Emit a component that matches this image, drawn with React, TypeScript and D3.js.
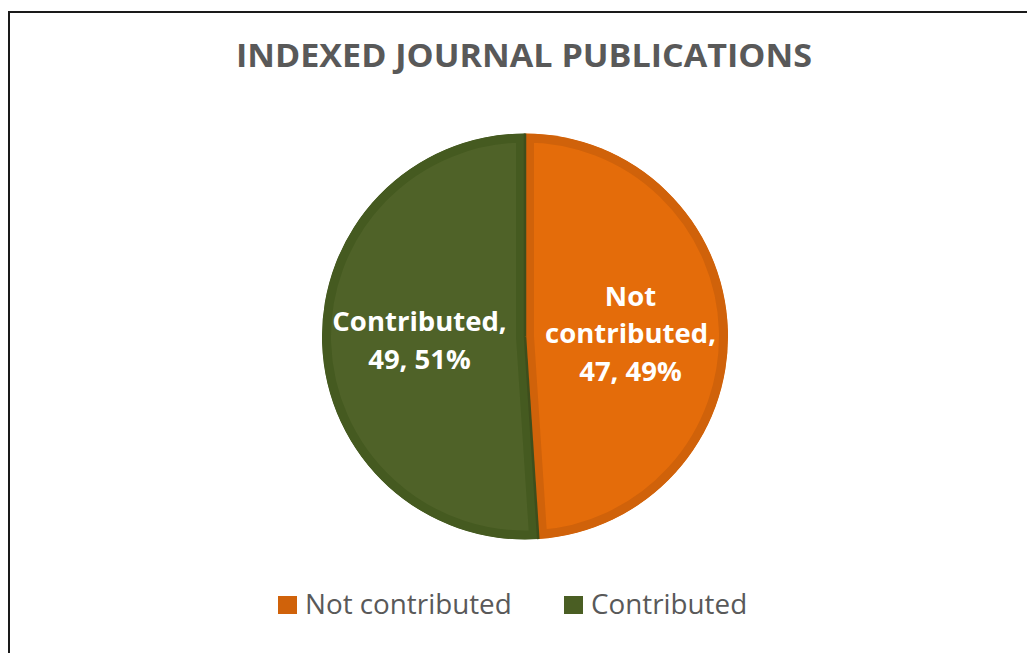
import React from "react";
import * as d3 from "d3";

const title = "INDEXED JOURNAL PUBLICATIONS";
const categories = ["Not contributed", "Contributed"];
const values = [47, 49];
const fills = ["#E46C0A", "#4F6228"];
const borders = ["#D0620A", "#455A20"];
const legendColors = ["#D0620A", "#4A5E23"];

const W = 1027;
const H = 653;
const cx = 525;
const cy = 336.5;
const R = 203;

export default function App() {
  const total = d3.sum(values);
  const pie = d3.pie<number>().sort(null).value((d) => d)(values);
  const arc = d3.arc<d3.PieArcDatum<number>>().innerRadius(0).outerRadius(R);
  const labelArc = d3
    .arc<d3.PieArcDatum<number>>()
    .innerRadius(R * 1.04)
    .outerRadius(0);

  const labelLines = (i: number) => {
    const pct = Math.round((values[i] / total) * 100);
    const tail = `${values[i]}, ${pct}%`;
    if (categories[i] === "Not contributed") return ["Not", "contributed,", tail];
    return [`${categories[i]},`, tail];
  };
  const lineH = 37.5;

  const font = "'Open Sans', 'DejaVu Sans', sans-serif";

  return (
    <svg
      width={W}
      height={H}
      style={{ position: "absolute", left: 0, top: 0, background: "#fff" }}
    >
      <defs>
        {pie.map((p, i) => (
          <clipPath id={`clip${i}`} key={i}>
            <path d={arc(p) || ""} transform={`translate(${cx},${cy})`} />
          </clipPath>
        ))}
      </defs>
      <rect x={0} y={0} width={W} height={H} fill="#fff" />
      <path d={`M${W + 5},12 H9 V${H + 5}`} fill="none" stroke="#1a1a1a" strokeWidth={2} />

      <text
        x={524}
        y={67}
        textAnchor="middle"
        fontFamily={font}
        fontWeight="bold"
        fontSize={32}
        fill="#595959"
        textLength={576}
        lengthAdjust="spacingAndGlyphs"
      >
        {title}
      </text>

      {pie.map((p, i) => (
        <g key={i} clipPath={`url(#clip${i})`}>
          <path
            d={arc(p) || ""}
            transform={`translate(${cx},${cy})`}
            fill={fills[i]}
            stroke={borders[i]}
            strokeWidth={18}
            strokeLinejoin="round"
          />
        </g>
      ))}
      <g transform={`translate(${cx},${cy})`}>
        {pie.map((p, i) => {
          const a = p.startAngle;
          return (
            <line
              key={i}
              x1={0}
              y1={0}
              x2={Math.sin(a) * R}
              y2={-Math.cos(a) * R}
              stroke="#3E4E1C"
              strokeWidth={2.5}
            />
          );
        })}
        {pie.map((p, i) => {
          const [lx, ly] = labelArc.centroid(p);
          const lines = labelLines(i);
          const n = lines.length;
          const firstBaseline = ly - ((n - 1) * lineH) / 2 + 10;
          return (
            <text
              key={i}
              textAnchor="middle"
              fontFamily={font}
              fontWeight="bold"
              fontSize={27.5}
              fill="#ffffff"
            >
              {lines.map((l, j) => (
                <tspan key={j} x={lx} y={firstBaseline + j * lineH}>
                  {l}
                </tspan>
              ))}
            </text>
          );
        })}
      </g>

      <g>
        {categories.map((c, i) => {
          const sx = i === 0 ? 278 : 564;
          return (
            <g key={c}>
              <rect x={sx} y={596} width={19} height={18} fill={legendColors[i]} />
              <text
                x={sx + 27}
                y={614}
                fontFamily={font}
                fontSize={27.8}
                fill="#595959"
              >
                {c}
              </text>
            </g>
          );
        })}
      </g>
    </svg>
  );
}
